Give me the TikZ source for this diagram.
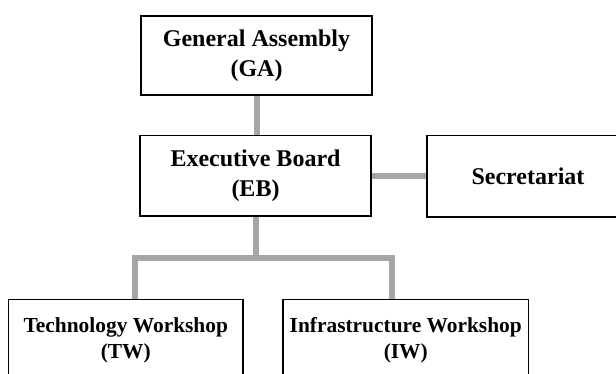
\documentclass[tikz,border=0pt]{standalone}
\usepackage{fontspec}
\setmainfont{Liberation Serif}
\usetikzlibrary{backgrounds}
\begin{document}
\begin{tikzpicture}[x=1pt, y=-1pt, line join=miter,
		unit/.style={draw, line width=1.6pt, fill=white, align=center, inner sep=0pt,
			font=\bfseries\fontsize{24}{29.5}\selectfont},
		work/.style={unit, font=\bfseries\fontsize{21.4}{26.4}\selectfont},
		link/.style={draw=black!35, line width=6pt}]
		\useasboundingbox (0,0) rectangle (616,374);
		\clip (0,0) rectangle (616,374);
		% boxes
		\node[unit, minimum width=231pt, minimum height=79pt] (ga) at (256.5,55.5) {General Assembly\\(GA)};
		\node[unit, minimum width=231pt, minimum height=80.5pt] (eb) at (255.5,175.75) {Executive Board\\(EB)};
		\node[unit, minimum width=202pt, minimum height=81.5pt] (sec) at (528,176.25) {Secretariat};
		\node[work, minimum width=234.4pt, minimum height=82pt] (tw) at (125.8,340.3) {Technology Workshop\\(TW)};
		\node[work, minimum width=245.5pt, minimum height=82pt] (iw) at (405.75,340.3) {Infrastructure Workshop\\(IW)};
		% links
		\coordinate (fork) at (255.5,258.3);
		\coordinate (twin) at (134.5,258.3);
		\coordinate (iwin) at (391.7,258.3);
		\begin{scope}[on background layer]
			\draw[link] (ga.south) -- (ga.south |- eb.north);
			\draw[link] (sec.west) -- (sec.west -| eb.east);
			\draw[link] (eb.south) -- (fork);
			\draw[link] (twin |- tw.north) -- (twin) -- (iwin) -- (iwin |- iw.north);
		\end{scope}
	\end{tikzpicture}
\end{document}
